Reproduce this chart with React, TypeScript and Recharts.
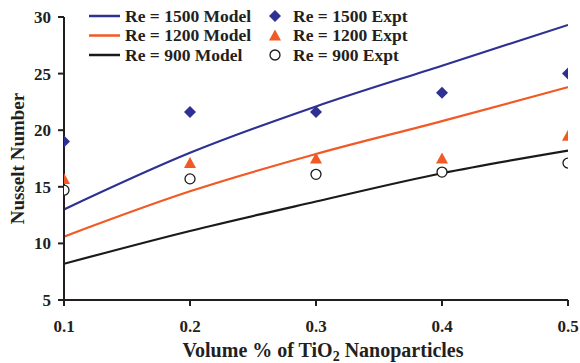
import {
  ComposedChart,
  Line,
  Scatter,
  XAxis,
  YAxis,
  Legend,
  Label
} from 'recharts'

const FONT = '"Liberation Serif", "Times New Roman", serif'
const INK = '#231f20'
const BLUE = '#2e3192'
const ORANGE = '#f15a24'
const BLACK = '#1a1a1a'

const volume = [0.1, 0.2, 0.3, 0.4, 0.5]
const xTicks = [0.1, 0.2, 0.3, 0.4, 0.5]
const yTicks = [5, 10, 15, 20, 25, 30]

const model1500 = [13.0, 18.0, 22.1, 25.7, 29.3]
const model1200 = [10.6, 14.6, 17.9, 20.8, 23.8]
const model900 = [8.2, 11.1, 13.7, 16.2, 18.2]

const expt1500 = [19.0, 21.6, 21.6, 23.3, 25.0]
const expt1200 = [15.7, 17.1, 17.5, 17.5, 19.5]
const expt900 = [14.7, 15.7, 16.1, 16.3, 17.1]

const toPoints = (vals: number[]) => volume.map((x, i) => ({ x, y: vals[i] }))

// marker shapes
const Diamond = (props: any) => {
  const { cx, cy } = props
  const r = 6
  return (
    <path
      d={`M${cx},${cy - r}L${cx + r},${cy}L${cx},${cy + r}L${cx - r},${cy}Z`}
      fill={BLUE}
    />
  )
}

const Triangle = (props: any) => {
  const { cx, cy } = props
  return (
    <path
      d={`M${cx},${cy - 6}L${cx + 6},${cy + 5}L${cx - 6},${cy + 5}Z`}
      fill={ORANGE}
    />
  )
}

const Circle = (props: any) => {
  const { cx, cy } = props
  return <circle cx={cx} cy={cy} r={5} fill="#fff" stroke={BLACK} strokeWidth={1.3} />
}

const legendRows = [
  { model: 'Re = 1500 Model', expt: 'Re = 1500 Expt', color: BLUE, mark: Diamond },
  { model: 'Re = 1200 Model', expt: 'Re = 1200 Expt', color: ORANGE, mark: Triangle },
  { model: 'Re = 900 Model', expt: 'Re = 900 Expt', color: BLACK, mark: Circle }
]

function ChartLegend() {
  return (
    <svg width={580} height={70} style={{ display: 'block' }}>
      {legendRows.map((row, i) => {
        const y = 16 + i * 19.5
        const Mark = row.mark
        return (
          <g key={row.model}>
            <line x1={89} x2={120} y1={y} y2={y} stroke={row.color} strokeWidth={2.5} />
            <text
              x={125}
              y={y + 5.5}
              fontFamily={FONT}
              fontWeight="bold"
              fontSize={17.5}
              fill={INK}
            >
              {row.model}
            </text>
            <Mark cx={275} cy={y} />
            <text
              x={293}
              y={y + 5.5}
              fontFamily={FONT}
              fontWeight="bold"
              fontSize={17.5}
              fill={INK}
            >
              {row.expt}
            </text>
          </g>
        )
      })}
    </svg>
  )
}

const XLabel = (props: any) => {
  const { viewBox } = props
  const cx = viewBox.x + viewBox.width / 2 + 7
  return (
    <text
      x={cx}
      y={viewBox.y + 57}
      textAnchor="middle"
      fontFamily={FONT}
      fontWeight="bold"
      fontSize={20}
      fill={INK}
    >
      Volume % of TiO
      <tspan fontSize={14} dy={4}>
        2
      </tspan>
      <tspan dy={-4}> Nanoparticles</tspan>
    </text>
  )
}

const YLabel = (props: any) => {
  const { viewBox } = props
  const cy = viewBox.y + viewBox.height / 2
  return (
    <text
      x={24}
      y={cy}
      transform={`rotate(-90 24 ${cy})`}
      textAnchor="middle"
      fontFamily={FONT}
      fontWeight="bold"
      fontSize={19}
      fill={INK}
    >
      Nusselt Number
    </text>
  )
}

const tickStyle = {
  fontFamily: FONT,
  fontWeight: 'bold' as const,
  fontSize: 17,
  fill: INK
}

export default function App() {
  return (
    <div style={{ position: 'absolute', top: 0, left: 0, background: '#fff' }}>
      <ComposedChart
        width={580}
        height={363}
        margin={{ top: 17, right: 12, bottom: 0, left: 0 }}
      >
        <XAxis
          type="number"
          dataKey="x"
          domain={[0.1, 0.5]}
          ticks={xTicks}
          allowDataOverflow
          height={63}
          tick={tickStyle}
          tickFormatter={(v) => v.toFixed(1)}
          tickSize={6}
          tickMargin={14}
          axisLine={{ stroke: INK, strokeWidth: 2 }}
          tickLine={{ stroke: INK, strokeWidth: 2 }}
        >
          <Label content={<XLabel />} />
        </XAxis>
        <YAxis
          type="number"
          domain={[5, 30]}
          ticks={yTicks}
          width={64}
          tick={tickStyle}
          tickSize={6}
          tickMargin={7}
          axisLine={{ stroke: INK, strokeWidth: 2 }}
          tickLine={{ stroke: INK, strokeWidth: 2 }}
        >
          <Label content={<YLabel />} />
        </YAxis>
        <Legend
          layout="horizontal"
          verticalAlign="middle"
          align="center"
          content={() => <ChartLegend />}
          wrapperStyle={{ position: 'absolute', top: 0, left: 0, width: 580, height: 70 }}
        />
        <Line
          data={toPoints(model1500)}
          dataKey="y"
          type="monotone"
          stroke={BLUE}
          strokeWidth={2.2}
          dot={false}
          isAnimationActive={false}
        />
        <Line
          data={toPoints(model1200)}
          dataKey="y"
          type="monotone"
          stroke={ORANGE}
          strokeWidth={2.2}
          dot={false}
          isAnimationActive={false}
        />
        <Line
          data={toPoints(model900)}
          dataKey="y"
          type="monotone"
          stroke={BLACK}
          strokeWidth={2.2}
          dot={false}
          isAnimationActive={false}
        />
        <Scatter
          data={toPoints(expt1500)}
          dataKey="y"
          shape={<Diamond />}
          isAnimationActive={false}
        />
        <Scatter
          data={toPoints(expt1200)}
          dataKey="y"
          shape={<Triangle />}
          isAnimationActive={false}
        />
        <Scatter
          data={toPoints(expt900)}
          dataKey="y"
          shape={<Circle />}
          isAnimationActive={false}
        />
      </ComposedChart>
    </div>
  )
}
